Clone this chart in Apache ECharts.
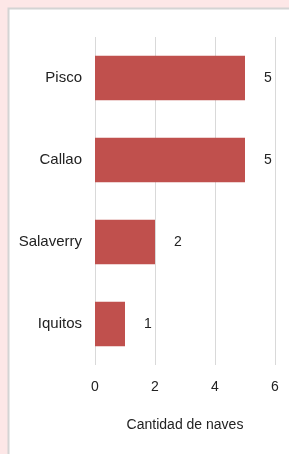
<!DOCTYPE html>
<html><head><meta charset="utf-8">
<script src="https://cdn.jsdelivr.net/npm/echarts@6/dist/echarts.min.js"></script>
<style>html,body{margin:0;padding:0;}#c{width:289px;height:454px;}</style>
</head><body><div id="c"></div>
<script>
const categories = ['Iquitos', 'Salaverry', 'Callao', 'Pisco'];
const values = [1, 2, 5, 5];
const xTicks = [0, 2, 4, 6];
const axisName = 'Cantidad de naves';

const chart = echarts.init(document.getElementById('c'));
chart.setOption({
  backgroundColor: '#fde7e7',
  animation: false,
  graphic: [{
    type: 'rect', shape: {x: 8.5, y: 8.5, width: 300, height: 460},
    style: {fill: '#ffffff', stroke: '#d4d4d4', lineWidth: 2}, z: -1
  }],
  grid: {left: 95, right: 14, top: 37, bottom: 89},
  xAxis: {
    type: 'value', min: xTicks[0], max: xTicks[xTicks.length-1], interval: 2,
    name: axisName, nameLocation: 'middle', nameGap: 60,
    nameTextStyle: {fontFamily: 'Liberation Sans', fontSize: 14, color: '#222', verticalAlign: 'middle'},
    axisLine: {show: false}, axisTick: {show: false},
    axisLabel: {fontFamily: 'Liberation Sans', fontSize: 14, color: '#222', margin: 15},
    splitLine: {show: true, lineStyle: {color: '#d9d9d9', width: 1}}
  },
  yAxis: {
    type: 'category', data: categories,
    axisLine: {show: false}, axisTick: {show: false},
    axisLabel: {fontFamily: 'Liberation Sans', fontSize: 15, color: '#222', margin: 13}
  },
  series: [{
    type: 'bar', data: values, barCategoryGap: '46%',
    itemStyle: {color: '#c0504d'},
    label: {show: true, position: 'right', distance: 19, fontFamily: 'Liberation Sans', fontSize: 14, color: '#222'}
  }]
});
</script></body></html>
